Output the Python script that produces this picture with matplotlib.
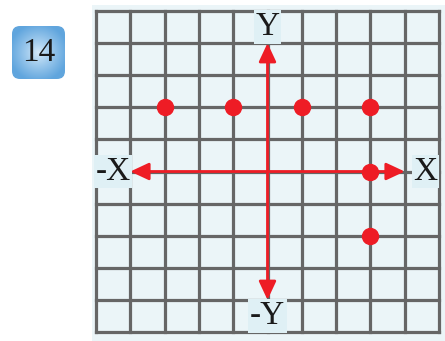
import matplotlib.pyplot as plt
import numpy as np
from matplotlib.patches import Rectangle, FancyBboxPatch

# points plotted on the grid
points_x = [-3, -1, 1, 3, 3, 3]
points_y = [2, 2, 2, 2, 0, -2]
grid_ticks = list(range(-5, 6))
axis_labels = {"Y": (0, 4.5), "-Y": (0, -4.5), "-X": (-4.5, 0), "X": (4.6, 0)}
badge_text = "14"

W, H = 445, 341
fig = plt.figure(figsize=(W / 100, H / 100), dpi=100)
fig.patch.set_facecolor("white")

# light panel behind the grid
fig.patches.append(Rectangle((92 / W, 0), 1 - 92 / W, 1 - 5 / H, transform=fig.transFigure,
                             facecolor="#ebf5f8", edgecolor="none", zorder=-5))

ax = fig.add_axes([96 / W, 9 / H, (439 - 96) / W, (331 - 10) / H])
ax.set_xlim(-5, 5)
ax.set_ylim(-5, 5)
ax.axis("off")
ax.patch.set_alpha(0)

red = "#ee1c25"
grey = "#666666"
for t in grid_ticks:
    ax.plot([t, t], [-5, 5], color=grey, lw=2.3, solid_capstyle="projecting", zorder=1, clip_on=False)
    ax.plot([-5, 5], [t, t], color=grey, lw=2.3, solid_capstyle="projecting", zorder=1, clip_on=False)

# axes arrows
arrow = dict(arrowstyle="<|-|>,head_length=0.75,head_width=0.35", color=red, lw=2.0,
             shrinkA=0, shrinkB=0, mutation_scale=15)
ax.annotate("", xy=(4, 0), xytext=(-4, 0), arrowprops=arrow, zorder=3)
ax.annotate("", xy=(0, 4), xytext=(0, -4), arrowprops=arrow, zorder=3)

ax.plot(points_x, points_y, "o", color=red, ms=11.5, zorder=4, clip_on=False)

for txt, (x, y) in axis_labels.items():
    ax.text(x, y, txt, family="Liberation Serif", fontsize=24, color="#1a1a1a",
            ha="center", va="center", zorder=5,
            bbox=dict(boxstyle="square,pad=0.05", facecolor="#dff0f5", edgecolor="none"))

# number badge with radial gradient
bx, by, bw, bh = 12, 26, 53, 53
bax = fig.add_axes([bx / W, 1 - (by + bh) / H, bw / W, bh / H])
bax.axis("off")
yy, xx = np.mgrid[-1:1:100j, -1:1:100j]
r = np.clip(np.sqrt(xx ** 2 + yy ** 2) / 1.1, 0, 1)
c0 = np.array([0.84, 0.92, 0.98])
c1 = np.array([0.38, 0.65, 0.87])
img = c0 + (c1 - c0) * r[..., None] ** 0.9
im = bax.imshow(img, extent=(0, 1, 0, 1), aspect="auto")
clip = FancyBboxPatch((0, 0), 1, 1, boxstyle="round,pad=0,rounding_size=0.15",
                      transform=bax.transAxes, facecolor="none", edgecolor="none")
bax.add_patch(clip)
im.set_clip_path(clip)
bax.set_xlim(0, 1)
bax.set_ylim(0, 1)
bax.text(0.5, 0.5, badge_text, family="Liberation Serif", fontsize=24, color="#1a1a1a",
         ha="center", va="center")

fig.savefig("out.png", dpi=100)
